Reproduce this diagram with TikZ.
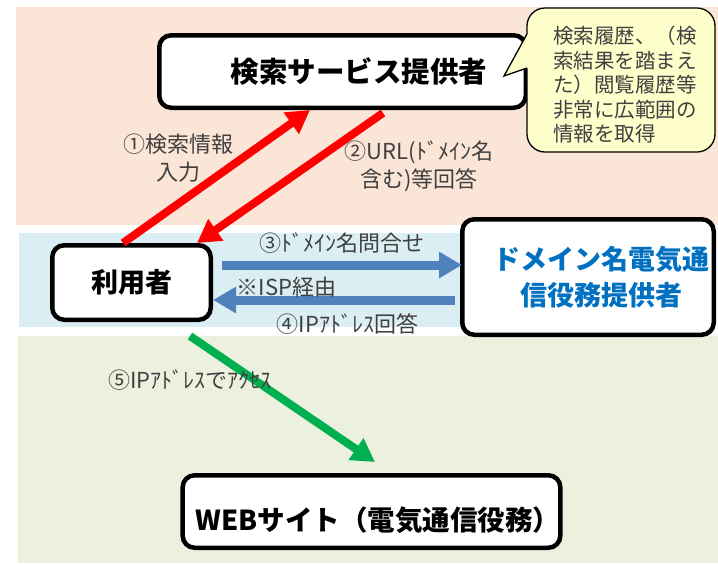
\documentclass[tikz,border=0pt]{standalone}
\usepackage{fontspec}
\setmainfont{Noto Sans CJK JP}
\usetikzlibrary{arrows.meta,calc}
\definecolor{peach}{HTML}{FBE5D6}
\definecolor{lblue}{HTML}{DAEEF3}
\definecolor{lgreen}{HTML}{EBF1DE}
\definecolor{callfill}{HTML}{FFFFCC}
\definecolor{txtgray}{HTML}{404040}
\definecolor{domblue}{HTML}{0070C0}
\definecolor{arrred}{HTML}{FF0000}
\definecolor{arrblue}{HTML}{4F81BD}
\definecolor{arrgreen}{HTML}{00B050}
\begin{document}
\begin{tikzpicture}[x=1pt,y=-1pt,
  box/.style={draw=black, line width=4.5pt, rounded corners=12pt, fill=white, inner sep=0pt,
    font=\bfseries\fontsize{27}{30}\selectfont},
  lab/.style={text=txtgray, font=\fontsize{22}{28}\selectfont, align=center, inner sep=0pt},
  redarrow/.style={line width=8pt, arrred, -{Triangle[width=25pt,length=23pt]}},
  bluearrow/.style={line width=9pt, arrblue, -{Triangle[width=25pt,length=23pt]}},
  greenarrow/.style={line width=8pt, arrgreen, -{Triangle[width=25pt,length=23pt]}},
]
\useasboundingbox (0,0) rectangle (718,563);
% background bands
\fill[peach] (16,7) rectangle (718,225);
\fill[lblue] (19,233) rectangle (600,327);
\fill[lgreen] (18,336) rectangle (718,563);

% boxes
\node[box, minimum width=366.5pt, minimum height=72.5pt, font=\bfseries\fontsize{28.5}{30}\selectfont] (search) at (342.5,71.5)
  {\hspace*{33pt}検索サービス提供者};
\node[box, minimum width=158.5pt, minimum height=74.5pt] (user) at (131.5,282.5) {利用者};
\node[box, minimum width=251.5pt, minimum height=115.5pt, text=domblue, align=center,
  font=\bfseries\fontsize{27}{36}\selectfont] (dom) at (588,277)
  {\hspace*{26pt}ドメイン名電気通\\\hspace*{26pt}信役務提供者};
\node[box, minimum width=372.5pt, minimum height=72.5pt, text height=41pt, text depth=3pt,
  font=\bfseries\fontsize{27.5}{30}\selectfont] (web) at (371.5,511.5)
  {\hspace*{13pt}WEBサイト（電気通信役務）};

% callout
\filldraw[fill=callfill, draw=black, line width=1.3pt, rounded corners=18pt] (527,8) rectangle (715,152);
\fill[callfill] (504,76) -- (527,34) -- (529,34) -- (529,68) -- (527,68) -- cycle;
\draw[line width=1.3pt, line join=miter] (527,34) -- (504,76) -- (527,68);
\node[anchor=west, text=txtgray, font=\fontsize{20.5}{24.5}\selectfont, align=left, inner sep=0pt] (note) at (553,85)
  {検索履歴、（検\\索結果を踏まえ\\た）閲覧履歴等\\非常に広範囲の\\情報を取得};

% arrows
\draw[redarrow] ([xshift=-8.5pt]user.north) -- ([xshift=-32.5pt]search.south);
\draw[redarrow] ([xshift=40.5pt,yshift=-3pt]search.south) -- ([xshift=65.5pt]user.north);
\draw[bluearrow] ([xshift=9pt,yshift=17.5pt]user.east) -- ([xshift=2pt,yshift=12pt]dom.west);
\draw[bluearrow] ([xshift=-5pt,yshift=-23pt]dom.west) -- ([yshift=-17.5pt]user.east);
\draw[greenarrow] ([xshift=58.5pt,yshift=-14pt]user.south) -- ([xshift=3.5pt,yshift=11pt]web.north);

% labels
\node[lab] (l1) at (178,158) {①検索情報\\入力};
\node[lab] (l2) at (419,166.5) {②URL(ﾄﾞﾒｲﾝ名\\含む)等回答};
\node[lab] (l3) at (341.5,243) {③ﾄﾞﾒｲﾝ名問合せ};
\node[lab] (l3b) at (286.5,287) {※ISP経由};
\node[lab] (l4) at (347.5,324) {④IPｱﾄﾞﾚｽ回答};
\node[lab] (l5) at (190,380) {⑤IPｱﾄﾞﾚｽでｱｸｾｽ};
\end{tikzpicture}
\end{document}
